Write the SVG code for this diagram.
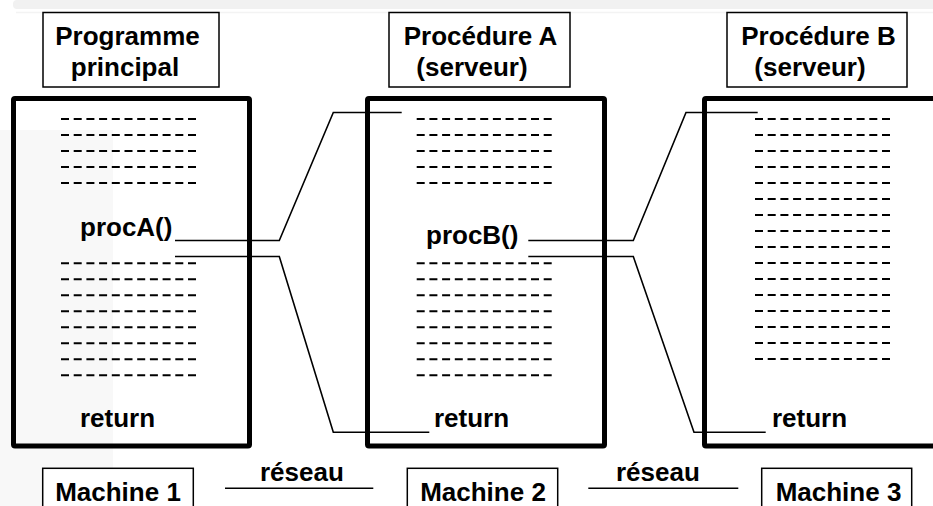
<svg xmlns="http://www.w3.org/2000/svg" width="933" height="506" viewBox="0 0 933 506">
<style>
text{font-family:"Liberation Sans",Arial,sans-serif;font-weight:bold;font-size:26px;fill:#000}
.c{text-anchor:middle}
.hdr{fill:#fff;stroke:#000;stroke-width:1.5}
.box{fill:none;stroke:#000;stroke-width:5;stroke-linejoin:round}
.dash{fill:none;stroke:#000;stroke-width:2;stroke-dasharray:8 4.7}
.conn{fill:none;stroke:#000;stroke-width:1.6}
</style>
<rect x="0" y="0" width="933" height="506" fill="#fff"/>
<rect x="0" y="130" width="113" height="376" fill="#f8f8f8"/>
<rect x="13" y="0" width="925" height="9" rx="4" fill="#f1f1f1"/>
<line x1="16" y1="12.5" x2="933" y2="12.5" stroke="#f3f3f3" stroke-width="1.5"/>

<g id="titre-programme">
<rect class="hdr" x="43" y="12.5" width="176" height="74.5"/>
<text class="c" x="127.5" y="45">Programme</text>
<text class="c" x="125" y="76">principal</text>
</g>
<g id="titre-procA">
<rect class="hdr" x="389" y="12.5" width="181" height="74.5"/>
<text class="c" x="480.5" y="45">Procédure A</text>
<text class="c" x="472" y="76">(serveur)</text>
</g>
<g id="titre-procB">
<rect class="hdr" x="727" y="12.5" width="180" height="74.5"/>
<text class="c" x="818.5" y="45">Procédure B</text>
<text class="c" x="810" y="76">(serveur)</text>
</g>

<g id="machine1-code">
<rect class="box" x="13.5" y="98.5" width="236" height="347.5" rx="1.5"/>
<path class="dash" d="M61 119H196M61 135H196M61 151H196M61 167H196M61 183H196M61 263.3H196M61 279.3H196M61 295.3H196M61 311.3H196M61 327.3H196M61 343.3H196M61 359.3H196M61 375.3H196"/>
<text x="80" y="236">procA()</text>
<text x="80" y="427">return</text>
</g>
<g id="machine2-code">
<rect class="box" x="367.5" y="98.5" width="237" height="347.5" rx="1.5"/>
<path class="dash" d="M416.7 119H551.7M416.7 135H551.7M416.7 151H551.7M416.7 167H551.7M416.7 183H551.7M416.7 263.3H551.7M416.7 279.3H551.7M416.7 295.3H551.7M416.7 311.3H551.7M416.7 327.3H551.7M416.7 343.3H551.7M416.7 359.3H551.7M416.7 375.3H551.7"/>
<text x="426" y="244.3">procB()</text>
<text x="434" y="427">return</text>
</g>
<g id="machine3-code">
<rect class="box" x="704.5" y="98.5" width="240" height="347.5" rx="1.5"/>
<path class="dash" d="M755 119H890M755 135H890M755 151H890M755 167H890M755 183H890M755 199H890M755 215H890M755 231H890M755 247H890M755 263H890M755 279H890M755 295H890M755 311H890M755 327H890M755 343H890M755 359H890"/>
<text x="772" y="427">return</text>
</g>

<g id="connecteurs">
<polyline class="conn" points="175,240.5 279.3,240.5 333.3,112.5 401.7,112.5"/>
<polyline class="conn" points="175,256.5 279.3,256.5 333.3,432.3 429.3,432.3"/>
<polyline class="conn" points="528.3,240.5 633.3,240.5 686,112.5 757.7,112.5"/>
<polyline class="conn" points="528.3,256.5 633.3,256.5 694,432.3 765.7,432.3"/>
<line class="conn" x1="225" y1="488.3" x2="373.3" y2="488.3"/>
<line class="conn" x1="588.3" y1="488.3" x2="738.3" y2="488.3"/>
</g>
<text x="260" y="481">réseau</text>
<text x="616" y="481">réseau</text>

<g id="machine1">
<rect class="hdr" x="42.7" y="468.3" width="150.6" height="45"/>
<text class="c" x="118" y="501">Machine 1</text>
</g>
<g id="machine2">
<rect class="hdr" x="407.3" y="468.3" width="150.4" height="45"/>
<text class="c" x="483" y="501">Machine 2</text>
</g>
<g id="machine3">
<rect class="hdr" x="761.7" y="468.3" width="150" height="45"/>
<text class="c" x="838.5" y="501">Machine 3</text>
</g>
</svg>
